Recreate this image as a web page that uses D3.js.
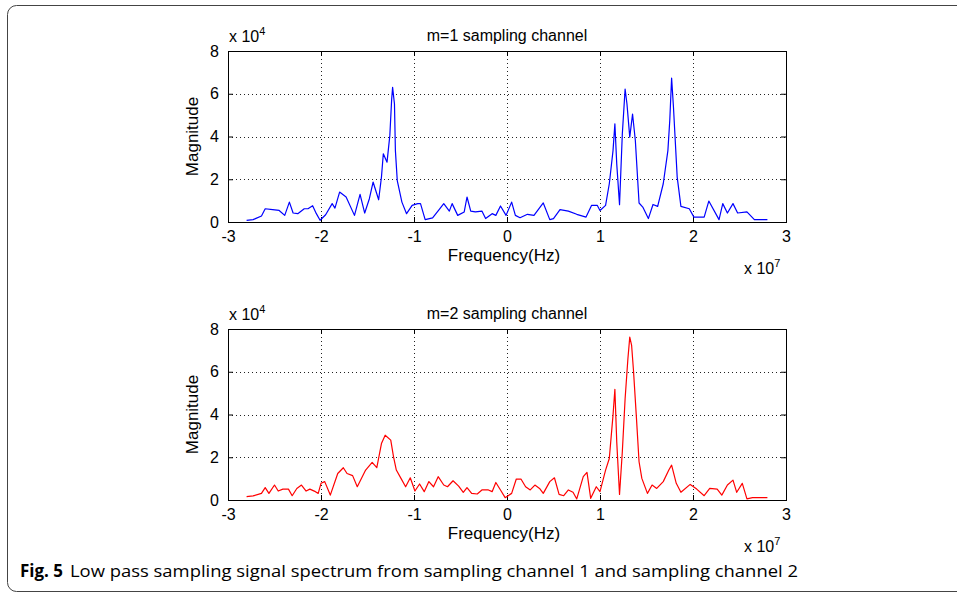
<!DOCTYPE html>
<html>
<head>
<meta charset="utf-8">
<script src="https://d3js.org/d3.v7.min.js"></script>
<style>
  body { margin: 0; background: #fff; }
  svg { display: block; }
</style>
</head>
<body>
<div id="chart-area"></div>
<script>
// frequency in units of 1e7 Hz, magnitude in units of 1e4
var xTicks = [-3, -2, -1, 0, 1, 2, 3];
var yTicks = [0, 2, 4, 6, 8];
var titles = ["m=1 sampling channel", "m=2 sampling channel"];
var colors = ["#0000ff", "#ff0000"];

var ch1Points = [
  [-2.80,0.08],[-2.73,0.11],[-2.64,0.28],[-2.60,0.62],[-2.52,0.58],[-2.45,0.54],[-2.39,0.31],
  [-2.34,0.93],[-2.30,0.42],[-2.25,0.39],[-2.18,0.62],[-2.14,0.62],[-2.09,0.76],[-2.05,0.39],
  [-2.01,0.08],[-1.95,0.34],[-1.88,0.86],[-1.85,0.65],[-1.80,1.40],[-1.73,1.17],[-1.64,0.31],
  [-1.58,1.29],[-1.53,0.42],[-1.48,1.09],[-1.44,1.87],[-1.38,1.04],[-1.35,2.10],[-1.33,3.19],
  [-1.29,2.80],[-1.26,4.04],[-1.24,5.75],[-1.23,6.30],[-1.21,5.52],[-1.20,3.34],[-1.18,1.94],
  [-1.13,0.93],[-1.08,0.39],[-1.02,0.78],[-0.96,0.86],[-0.93,0.86],[-0.88,0.11],[-0.80,0.19],
  [-0.73,0.58],[-0.68,0.86],[-0.62,0.51],[-0.59,0.86],[-0.53,0.31],[-0.46,0.47],[-0.43,1.17],
  [-0.39,0.51],[-0.34,0.47],[-0.27,0.51],[-0.23,0.16],[-0.16,0.39],[-0.12,0.31],[-0.07,0.75],
  [-0.01,0.31],[0.05,0.93],[0.09,0.31],[0.14,0.20],[0.22,0.36],[0.29,0.31],[0.39,0.89],
  [0.46,0.11],[0.50,0.16],[0.57,0.58],[0.66,0.51],[0.75,0.36],[0.85,0.23],[0.91,0.78],
  [0.97,0.78],[1.00,0.54],[1.06,0.78],[1.10,1.79],[1.14,3.34],[1.16,4.59],[1.18,2.72],
  [1.21,0.81],[1.24,4.12],[1.27,6.22],[1.29,5.52],[1.32,3.97],[1.35,5.05],[1.38,3.81],
  [1.42,0.89],[1.46,0.70],[1.52,0.16],[1.57,0.82],[1.62,0.73],[1.68,1.79],[1.73,3.34],
  [1.75,4.74],[1.77,6.73],[1.79,5.37],[1.83,2.10],[1.87,0.73],[1.96,0.62],[2.01,0.23],
  [2.12,0.23],[2.17,0.98],[2.28,0.11],[2.32,0.86],[2.37,0.42],[2.43,0.86],[2.48,0.42],
  [2.58,0.47],[2.66,0.11],[2.80,0.11]
];

var ch2Points = [
  [-2.80,0.16],[-2.73,0.19],[-2.64,0.31],[-2.60,0.58],[-2.56,0.31],[-2.50,0.70],[-2.46,0.42],
  [-2.41,0.51],[-2.35,0.51],[-2.31,0.20],[-2.26,0.54],[-2.21,0.70],[-2.16,0.42],[-2.12,0.51],
  [-2.06,0.39],[-2.03,0.31],[-2.00,0.78],[-1.96,0.86],[-1.90,0.23],[-1.82,1.24],[-1.76,1.51],
  [-1.72,1.24],[-1.66,1.14],[-1.61,0.62],[-1.52,1.40],[-1.45,1.76],[-1.40,1.51],[-1.35,2.64],
  [-1.31,3.03],[-1.25,2.80],[-1.22,2.02],[-1.19,1.40],[-1.14,1.01],[-1.09,0.62],[-1.04,1.04],
  [-0.99,0.42],[-0.94,0.75],[-0.89,0.39],[-0.84,0.86],[-0.79,0.62],[-0.74,1.09],[-0.68,0.70],
  [-0.64,0.62],[-0.58,0.90],[-0.52,0.65],[-0.47,0.36],[-0.43,0.58],[-0.38,0.31],[-0.32,0.28],
  [-0.27,0.47],[-0.20,0.47],[-0.16,0.39],[-0.12,0.82],[-0.07,0.47],[-0.02,0.11],[0.05,0.31],
  [0.10,0.98],[0.15,0.98],[0.20,0.62],[0.25,0.47],[0.30,0.70],[0.35,0.54],[0.39,0.31],
  [0.46,0.86],[0.51,1.04],[0.56,0.26],[0.61,0.20],[0.66,0.47],[0.71,0.36],[0.75,0.05],
  [0.82,1.09],[0.86,1.29],[0.90,0.08],[0.96,0.62],[1.00,0.39],[1.06,1.40],[1.10,1.94],
  [1.14,3.97],[1.16,5.18],[1.18,2.72],[1.21,0.26],[1.24,2.26],[1.27,4.74],[1.30,6.61],
  [1.32,7.62],[1.34,7.23],[1.36,6.06],[1.39,3.97],[1.42,1.79],[1.45,1.01],[1.51,0.31],
  [1.56,0.70],[1.61,0.54],[1.68,0.86],[1.74,1.40],[1.77,1.63],[1.82,0.78],[1.87,0.36],
  [1.97,0.73],[2.04,0.51],[2.12,0.20],[2.18,0.54],[2.26,0.51],[2.31,0.23],[2.37,0.70],
  [2.43,0.93],[2.47,0.36],[2.53,0.78],[2.58,0.05],[2.64,0.11],[2.80,0.11]
];

var series = [ch1Points, ch2Points];

var W = 957, H = 594;
var plotLeft = 228, plotRight = 786;
var plotTops = [51, 329], plotH = 171;
var labelFont = "Liberation Sans, Arial, sans-serif";

var svg = d3.select("#chart-area")
    .append("svg")
        .attr("width", W)
        .attr("height", H)
        .style("font-family", labelFont);

// outer figure frame
svg.append("rect")
    .attr("x", 7.5)
    .attr("y", 5.5)
    .attr("width", 970)
    .attr("height", 586)
    .attr("rx", 9)
    .attr("fill", "none")
    .attr("stroke", "#444")
    .attr("stroke-width", 1);

var x = d3.scaleLinear()
    .domain([-3, 3])
    .range([0, plotRight - plotLeft]);

var y = d3.scaleLinear()
    .domain([0, 8])
    .range([plotH, 0]);

var line = d3.line()
    .x(function(d){ return x(d[0]); })
    .y(function(d){ return y(d[1]); });

var plain = function(d){ return String(d); };

series.forEach(function(data, i) {
    var g = svg.append("g")
        .attr("transform", "translate(" + plotLeft + "," + plotTops[i] + ")");
    var w = plotRight - plotLeft;

    // dotted grid
    g.selectAll(".vgrid").data(xTicks.slice(1, -1)).enter()
        .append("line")
        .attr("x1", function(d){ return Math.round(x(d)) + 0.5; })
        .attr("x2", function(d){ return Math.round(x(d)) + 0.5; })
        .attr("y1", 0).attr("y2", plotH)
        .attr("stroke", "#222")
        .attr("stroke-dasharray", "1,3");
    g.selectAll(".hgrid").data(yTicks.slice(1, -1)).enter()
        .append("line")
        .attr("y1", function(d){ return Math.round(y(d)) + 0.5; })
        .attr("y2", function(d){ return Math.round(y(d)) + 0.5; })
        .attr("x1", 0).attr("x2", w)
        .attr("stroke", "#222")
        .attr("stroke-dasharray", "1,3");

    // axes with inward ticks on all sides
    var xb = g.append("g").attr("transform", "translate(0," + plotH + ")")
        .call(d3.axisBottom(x).tickValues(xTicks).tickSizeInner(-5).tickSizeOuter(0)
            .tickPadding(9).tickFormat(plain));
    var xt = g.append("g")
        .call(d3.axisTop(x).tickValues(xTicks).tickSizeInner(-5).tickSizeOuter(0).tickFormat(""));
    var yl = g.append("g")
        .call(d3.axisLeft(y).tickValues(yTicks).tickSizeInner(-5).tickSizeOuter(0)
            .tickPadding(9).tickFormat(plain));
    var yr = g.append("g").attr("transform", "translate(" + w + ",0)")
        .call(d3.axisRight(y).tickValues(yTicks).tickSizeInner(-5).tickSizeOuter(0).tickFormat(""));
    [xb, xt, yl, yr].forEach(function(a){
        a.attr("font-family", labelFont);
        a.selectAll("path, line").attr("stroke", "#000");
        a.selectAll("text")
            .attr("font-size", "16px")
            .attr("fill", "#000");
    });

    g.append("path")
        .datum(data)
        .attr("fill", "none")
        .attr("stroke", colors[i])
        .attr("stroke-width", 1.2)
        .attr("stroke-linejoin", "round")
        .attr("d", line);

    // box on top
    g.append("rect")
        .attr("x", 0.5).attr("y", 0.5)
        .attr("width", w).attr("height", plotH)
        .attr("fill", "none")
        .attr("stroke", "#000");

    // labels
    g.append("text")
        .attr("x", 279)
        .attr("y", -10)
        .attr("font-size", "16px")
        .attr("text-anchor", "middle")
        .text(titles[i]);
    var e4 = g.append("text")
        .attr("x", 1)
        .attr("y", -9)
        .attr("font-size", "16px");
    e4.append("tspan").text("x 10");
    e4.append("tspan").attr("font-size", "11px").attr("dy", -7).text("4");

    g.append("text")
        .attr("transform", "translate(-30," + (plotH / 2) + ") rotate(-90)")
        .attr("font-size", "17px")
        .attr("text-anchor", "middle")
        .text("Magnitude");
    g.append("text")
        .attr("x", 276)
        .attr("y", plotH + 39)
        .attr("font-size", "17px")
        .attr("text-anchor", "middle")
        .text("Frequency(Hz)");
    var e7 = g.append("text")
        .attr("x", 516)
        .attr("y", plotH + 52)
        .attr("font-size", "16px");
    e7.append("tspan").text("x 10");
    e7.append("tspan").attr("font-size", "11px").attr("dy", -7).text("7");
});

// caption
svg.append("text")
    .attr("x", 20)
    .attr("y", 577)
    .style("font-family", "'Open Sans', sans-serif")
    .attr("font-weight", "bold")
    .attr("font-size", "17px")
    .attr("textLength", 43)
    .attr("lengthAdjust", "spacingAndGlyphs")
    .text("Fig. 5");
svg.append("text")
    .attr("x", 70)
    .attr("y", 577)
    .style("font-family", "'Open Sans', sans-serif")
    .attr("font-size", "17px")
    .attr("textLength", 728)
    .attr("lengthAdjust", "spacingAndGlyphs")
    .text("Low pass sampling signal spectrum from sampling channel 1 and sampling channel 2");
</script>
</body>
</html>
